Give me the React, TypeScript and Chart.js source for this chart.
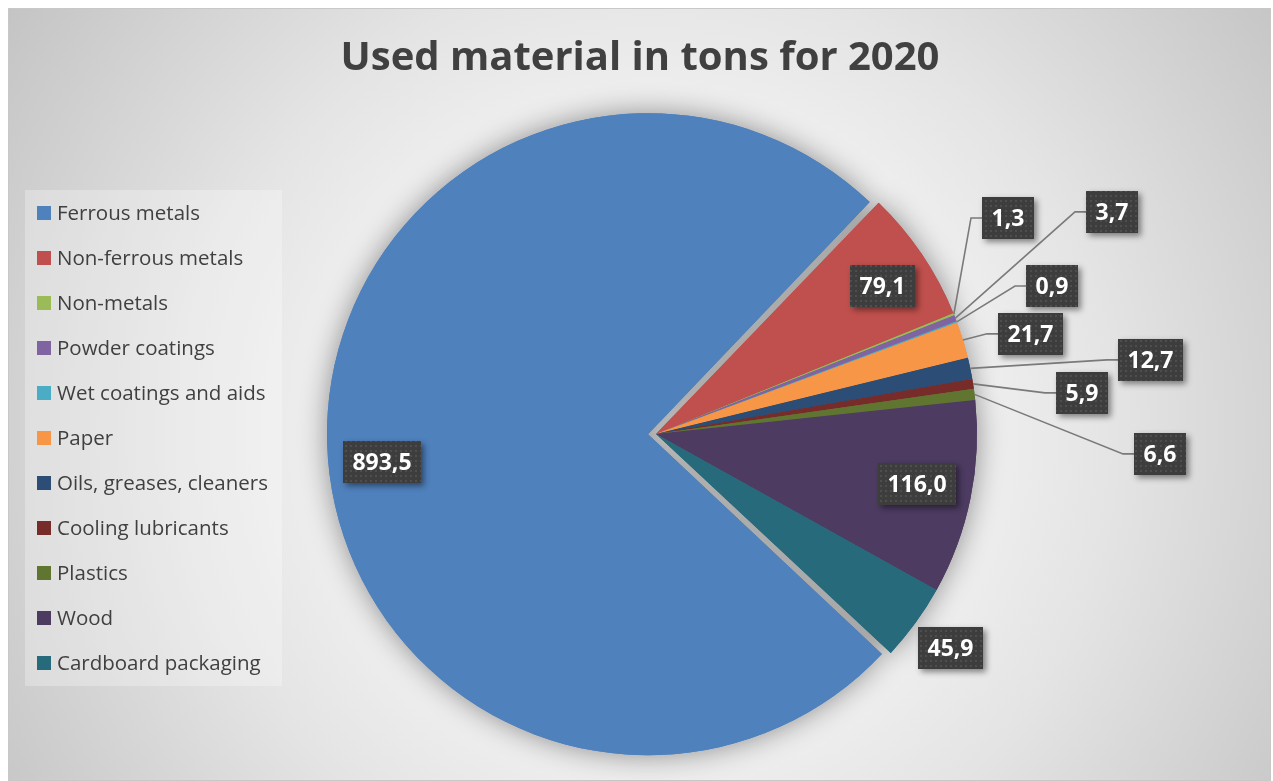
import React, { useEffect, useRef } from "react";
import { Chart, registerables } from "chart.js";

Chart.register(...registerables);

const title = "Used material in tons for 2020";
const categories = [
  "Ferrous metals",
  "Non-ferrous metals",
  "Non-metals",
  "Powder coatings",
  "Wet coatings and aids",
  "Paper",
  "Oils, greases, cleaners",
  "Cooling lubricants",
  "Plastics",
  "Wood",
  "Cardboard packaging",
];
const tons = [893.5, 79.1, 1.3, 3.7, 0.9, 21.7, 12.7, 5.9, 6.6, 116.0, 45.9];
const colors = [
  "#4F81BD",
  "#C0504D",
  "#9BBB59",
  "#8064A2",
  "#4BACC6",
  "#F79646",
  "#2C4D75",
  "#772C2A",
  "#5F7530",
  "#4D3B62",
  "#276A7C",
];
// Chart.js draws an arc's offset at a quarter of the option value: 32 -> 8px
const explode = [32, 0, 0, 0, 0, 0, 0, 0, 0, 0, 0];
// label centre relative to each slice's centre, in fractions of the radius; leader line flag
const labelPlacement: [number, number, boolean][] = [
  [-0.829, 0.087, false],
  [0.707, -0.461, false],
  [1.097, -0.673, true],
  [1.421, -0.692, true],
  [1.234, -0.461, true],
  [1.168, -0.312, true],
  [1.542, -0.231, true],
  [1.327, -0.128, true],
  [1.57, 0.062, true],
  [0.813, 0.156, false],
  [0.919, 0.667, false],
];

const W = 1263;
const H = 773;
const FONT = '"Open Sans", "Noto Sans", sans-serif';

const fmt = (v: number) => v.toFixed(1).replace(".", ",");

let patternCache: CanvasPattern | null = null;
function getPattern(ctx: CanvasRenderingContext2D) {
  if (patternCache) return patternCache;
  const c = document.createElement("canvas");
  c.width = 5;
  c.height = 5;
  const p = c.getContext("2d")!;
  p.fillStyle = "#3d3d3d";
  p.fillRect(0, 0, 5, 5);
  p.fillStyle = "#4e4e4e";
  p.fillRect(2, 2, 2, 2);
  patternCache = ctx.createPattern(c, "repeat");
  return patternCache;
}

const shadowPlugin = {
  id: "pieShadow",
  beforeDatasetsDraw(chart: any) {
    const ctx = chart.ctx as CanvasRenderingContext2D;
    const meta = chart.getDatasetMeta(0);
    const baseR = meta.controller.outerRadius;
    // an exploded slice keeps the same radius as the rest (Chart.js would enlarge it)
    meta.data.forEach((a: any, i: number) => {
      const fix = 1 - Math.sin(Math.min(Math.PI, a.circumference || 0));
      a.outerRadius = baseR - (explode[i] / 4) * fix;
    });
    ctx.save();
    ctx.shadowColor = "rgba(0,0,0,0.42)";
    ctx.shadowBlur = 28;
    meta.data.forEach((a: any) => a.draw(ctx));
    ctx.restore();
  },
};

const labelPlugin = {
  id: "sliceLabels",
  afterDatasetsDraw(chart: any) {
    const ctx = chart.ctx as CanvasRenderingContext2D;
    const meta = chart.getDatasetMeta(0);
    const ds = chart.data.datasets[0];
    const R = meta.controller.outerRadius;
    ctx.save();
    ctx.font = `bold 23px ${FONT}`;
    const boxes: any[] = [];
    meta.data.forEach((arc: any, i: number) => {
      const p = arc.getProps(["x", "y", "startAngle", "endAngle"], true);
      const mid = (p.startAngle + p.endAngle) / 2;
      const off = explode[i] / 4;
      const cx = p.x + Math.cos(mid) * off;
      const cy = p.y + Math.sin(mid) * off;
      const [fx, fy, leader] = labelPlacement[i];
      const lx = cx + fx * R;
      const ly = cy + fy * R;
      const text = fmt(ds.data[i]);
      const tw = ctx.measureText(text).width;
      const bw = Math.round(tw + 19);
      const bh = 42;
      const bx = Math.round(lx - bw / 2);
      const by = Math.round(ly - bh / 2);
      boxes.push({ text, bx, by, bw, bh });
      if (leader) {
        ctx.beginPath();
        ctx.moveTo(cx + Math.cos(mid) * R, cy + Math.sin(mid) * R);
        ctx.lineTo(bx - 11, ly);
        ctx.lineTo(bx, ly);
        ctx.strokeStyle = "#7a7a7a";
        ctx.lineWidth = 1.6;
        ctx.stroke();
      }
    });
    const pat = getPattern(ctx);
    boxes.forEach((b) => {
      ctx.save();
      ctx.shadowColor = "rgba(0,0,0,0.45)";
      ctx.shadowBlur = 6;
      ctx.shadowOffsetX = 3;
      ctx.shadowOffsetY = 3;
      ctx.fillStyle = "#3d3d3d";
      ctx.fillRect(b.bx, b.by, b.bw, b.bh);
      ctx.restore();
      ctx.fillStyle = pat || "#3d3d3d";
      ctx.fillRect(b.bx, b.by, b.bw, b.bh);
      ctx.fillStyle = "#ffffff";
      ctx.textAlign = "center";
      ctx.textBaseline = "middle";
      ctx.fillText(b.text, b.bx + b.bw / 2, b.by + b.bh / 2 + 1);
    });
    ctx.restore();
  },
};

const legendAndTitlePlugin = {
  id: "sideLegend",
  afterDraw(chart: any) {
    const ctx = chart.ctx as CanvasRenderingContext2D;
    const labels = chart.data.labels as string[];
    const bg = chart.data.datasets[0].backgroundColor as string[];
    ctx.save();
    // title
    ctx.font = `bold 40px ${FONT}`;
    ctx.fillStyle = "#404040";
    ctx.textAlign = "center";
    ctx.textBaseline = "middle";
    ctx.fillText(title, 632, 51);
    // legend
    ctx.fillStyle = "rgba(255,255,255,0.28)";
    ctx.fillRect(17, 182, 257, 496);
    ctx.font = `20.5px ${FONT}`;
    ctx.textBaseline = "middle";
    ctx.textAlign = "left";
    labels.forEach((lab, i) => {
      const y = 205 + 45 * i;
      ctx.fillStyle = bg[i];
      ctx.fillRect(29, y - 7, 14, 14);
      ctx.fillStyle = "#404040";
      ctx.fillText(lab, 49, y + 1);
    });
    ctx.restore();
  },
};

export default function App() {
  const ref = useRef<HTMLCanvasElement | null>(null);
  useEffect(() => {
    let chart: Chart | null = null;
    let cancelled = false;
    const make = () => {
      if (cancelled || !ref.current) return;
      chart = new Chart(ref.current, {
        type: "pie",
        data: {
          labels: categories,
          datasets: [
            {
              data: tons,
              backgroundColor: colors,
              borderWidth: 0,
              offset: explode,
              hoverOffset: 0,
            } as any,
          ],
        },
        options: {
          responsive: false,
          animation: false,
          rotation: 133,
          radius: 321,
          layout: { padding: { left: 33, right: 0, top: 80, bottom: 1 } },
          plugins: {
            legend: { display: false },
            tooltip: { enabled: false },
            title: { display: false },
          },
        } as any,
        plugins: [shadowPlugin, labelPlugin, legendAndTitlePlugin],
      });
    };
    const fontsReady = (document as any).fonts
      ? Promise.all([
          (document as any).fonts.load(`bold 23px "Open Sans"`),
          (document as any).fonts.load(`20px "Open Sans"`),
        ]).catch(() => null)
      : Promise.resolve(null);
    fontsReady.then(make);
    return () => {
      cancelled = true;
      if (chart) chart.destroy();
    };
  }, []);

  return (
    <div
      style={{
        position: "fixed",
        left: 8,
        top: 8,
        width: W,
        height: H,
        background:
          "radial-gradient(circle farthest-corner at 51% 55%, #ffffff 0%, #f6f6f6 30%, #e4e4e4 60%, #c4c4c4 100%)",
        boxShadow: "inset 0 0 0 1px #c8c8c8",
        overflow: "hidden",
      }}
    >
      <canvas ref={ref} width={W} height={H} style={{ display: "block", width: W, height: H }} />
    </div>
  );
}
